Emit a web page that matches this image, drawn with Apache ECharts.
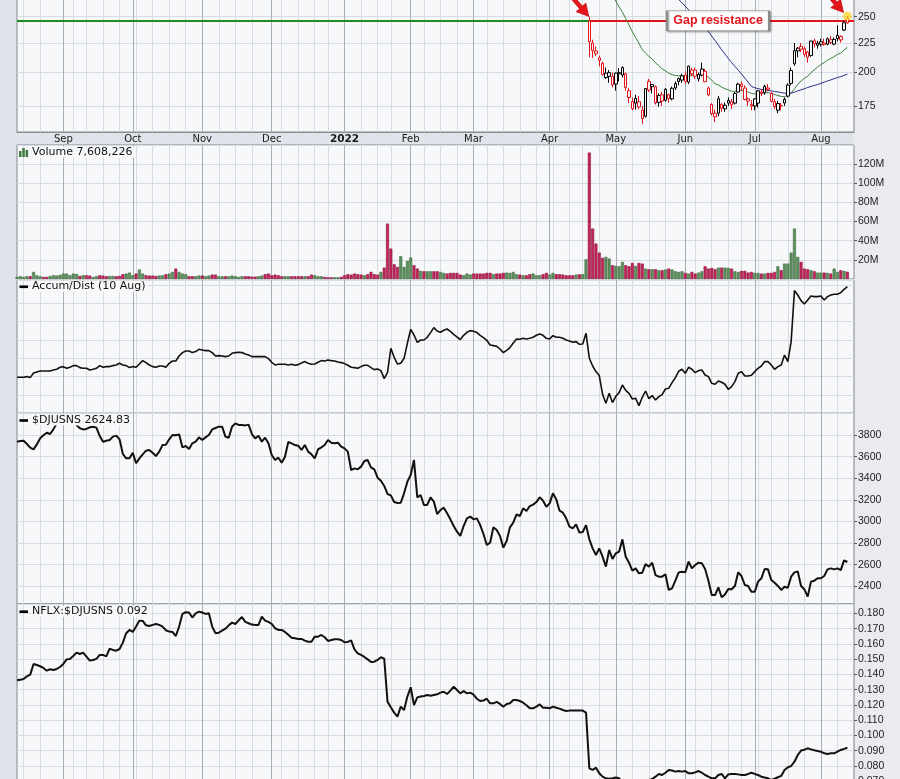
<!DOCTYPE html>
<html><head><meta charset="utf-8">
<script src="https://cdn.jsdelivr.net/npm/echarts@6/dist/echarts.min.js"></script>
<style>html,body{margin:0;padding:0;background:#dfe3ea;}#c{width:900px;height:779px;}</style>
</head><body><div id="c"></div>
<script>
// ---------- categories (trading days) ----------
const firstDay = '2021-08-12';
const lastDay = '2022-08-11';
const holidays = ['2021-09-06','2021-11-25','2021-12-24','2022-01-17','2022-02-21','2022-04-15','2022-05-30','2022-06-20','2022-07-04'];
const padSlots = ['pad1','pad2'];
const monthNames = ['Jan','Feb','Mar','Apr','May','Jun','Jul','Aug','Sep','Oct','Nov','Dec'];

// ---------- series values (one per trading day) ----------
const djusns = [
3739,3745,3748,3718,3684,3668,3714,3770,3798,3822,
3810,3853,3909,3934,3946,3924,3940,3915,3894,3863,
3853,3857,3872,3878,3869,3792,3739,3748,3755,3786,
3795,3761,3625,3585,3585,3637,3539,3585,3622,3656,
3662,3637,3606,3647,3708,3711,3761,3801,3798,3807,
3687,3699,3671,3724,3739,3779,3755,3779,3801,3853,
3866,3878,3878,3786,3776,3878,3909,3894,3894,3890,
3897,3810,3770,3795,3739,3776,3724,3616,3569,3591,
3545,3600,3736,3724,3708,3702,3662,3708,3647,3622,
3585,3668,3687,3708,3755,3730,3724,3730,3693,3677,
3647,3477,3492,3483,3508,3560,3569,3501,3483,3406,
3378,3329,3255,3242,3181,3171,3174,3261,3369,3430,
3569,3224,3245,3153,3153,3224,3184,3069,3106,3128,
3076,3020,2958,2906,2866,2958,3029,3045,3020,3029,
2967,2884,2782,2804,2946,2921,2866,2758,2819,2946,
2989,3066,3051,3122,3097,3143,3156,3180,3224,3193,
3137,3168,3261,3205,3100,3082,3029,2952,2937,2974,
2897,2903,2967,2835,2751,2690,2751,2674,2582,2736,
2653,2705,2721,2835,2674,2619,2545,2566,2520,2526,
2606,2582,2619,2504,2489,2489,2511,2366,2381,2452,
2529,2535,2529,2628,2566,2597,2619,2613,2560,2452,
2319,2319,2390,2298,2325,2375,2372,2403,2529,2495,
2412,2403,2350,2350,2443,2474,2560,2557,2458,2433,
2403,2366,2396,2387,2489,2529,2538,2403,2372,2304,
2443,2452,2474,2474,2495,2557,2566,2557,2566,2550,
2640,2625];

const ratio = [
.1362,.1366,.1370,.1388,.1399,.1469,.1462,.1454,.1443,.1425,
.1434,.1429,.1436,.1449,.1469,.1499,.1502,.1521,.1543,.1534,
.1543,.1517,.1491,.1495,.1502,.1528,.1528,.1519,.1569,.1561,
.1556,.1567,.1609,.1670,.1692,.1679,.1714,.1753,.1751,.1722,
.1718,.1725,.1731,.1725,.1714,.1690,.1681,.1679,.1652,.1714,
.1797,.1808,.1806,.1773,.1801,.1812,.1806,.1797,.1801,.1714,
.1670,.1674,.1687,.1700,.1722,.1740,.1731,.1755,.1777,.1745,
.1736,.1727,.1725,.1725,.1779,.1753,.1745,.1731,.1703,.1692,
.1692,.1679,.1661,.1641,.1637,.1633,.1633,.1622,.1615,.1615,
.1648,.1648,.1659,.1644,.1620,.1626,.1631,.1631,.1626,.1611,
.1613,.1624,.1565,.1539,.1528,.1515,.1499,.1482,.1484,.1495,
.1513,.1504,.1222,.1185,.1150,.1124,.1189,.1167,.1255,.1316,
.1200,.1250,.1255,.1259,.1265,.1261,.1266,.1270,.1281,.1287,
.1272,.1294,.1320,.1298,.1276,.1292,.1276,.1281,.1268,.1241,
.1226,.1229,.1241,.1211,.1211,.1220,.1207,.1189,.1207,.1211,
.1233,.1233,.1226,.1215,.1198,.1178,.1178,.1189,.1204,.1182,
.1182,.1178,.1189,.1182,.1176,.1167,.1161,.1163,.1163,.1163,
.1163,.1163,.1150,.0785,.0774,.0789,.0752,.0730,.0719,.0717,
.0719,.0724,.0719,.0697,.0681,.0675,.0675,.0681,.0686,.0681,
.0697,.0708,.0715,.0730,.0748,.0741,.0756,.0774,.0770,.0763,
.0767,.0763,.0767,.0752,.0752,.0758,.0767,.0756,.0741,.0730,
.0719,.0719,.0741,.0748,.0719,.0745,.0748,.0748,.0745,.0741,
.0741,.0748,.0756,.0748,.0741,.0730,.0724,.0719,.0708,.0717,
.0726,.0735,.0774,.0791,.0800,.0828,.0872,.0901,.0907,.0916,
.0909,.0903,.0898,.0894,.0883,.0879,.0883,.0883,.0894,.0905,
.0912,.0920];

const accumDist = [
36.0,36.0,36.0,36.7,35.7,40.3,41.3,42.3,42.3,42.3,
42.3,43.3,44.0,46.0,46.7,45.0,46.0,47.7,47.7,45.7,
45.0,45.0,43.3,44.0,45.0,47.7,46.0,46.7,46.7,47.7,
48.3,50.0,48.3,47.7,45.7,46.7,46.0,49.3,52.7,50.7,
48.3,46.7,46.0,47.3,47.3,46.0,50.0,52.3,52.3,57.3,
60.7,62.3,62.3,60.7,61.7,64.0,63.3,62.7,62.7,60.7,
57.3,57.7,57.3,56.7,57.3,60.0,60.7,61.0,60.7,59.3,
58.3,56.7,56.7,56.7,56.7,56.7,54.7,51.0,48.3,49.0,
49.0,49.0,48.3,49.0,48.0,48.7,50.3,51.7,50.0,49.0,
49.3,51.0,52.7,52.3,53.3,52.7,52.3,51.3,50.7,49.7,
48.0,46.0,45.7,45.0,46.7,48.0,48.0,45.7,43.7,44.3,
42.7,34.7,41.0,65.0,56.0,49.3,50.0,55.0,70.0,84.0,
78.3,71.0,73.3,73.3,76.0,80.7,85.7,82.3,81.0,83.0,
84.3,82.0,79.0,76.3,73.7,78.0,81.0,82.7,82.0,80.7,
78.0,75.7,73.0,68.3,67.7,67.0,64.3,60.7,63.0,65.7,
70.3,74.3,74.0,75.0,74.3,75.0,76.0,78.0,79.3,78.0,
75.0,74.3,77.7,76.0,76.0,75.0,73.3,72.3,71.0,71.7,
69.0,69.3,80.0,55.0,47.3,41.7,37.7,19.0,10.0,20.0,
10.7,17.0,20.7,28.3,23.0,20.0,14.3,15.0,7.7,16.0,
22.3,14.7,17.7,13.3,16.7,18.7,24.3,25.0,30.7,35.7,
42.0,44.0,40.0,46.0,44.0,40.7,42.7,43.3,38.3,36.7,
30.0,29.0,32.3,31.0,29.0,24.0,26.7,31.7,40.0,41.7,
37.3,37.3,38.0,41.7,45.0,47.3,51.7,51.7,48.3,44.0,
46.7,48.3,58.3,51.7,71.7,122.7,118.3,112.7,109.3,113.3,
117.3,116.7,116.7,117.3,113.3,116.7,118.3,119.0,119.0,120.7,
124.0,126.7];

const volumeM = [
2.2,2.9,2.2,2.9,2.9,7.4,3.9,2.9,2.2,2.2,
3.2,3.9,3.6,4.3,5.7,5.7,3.9,5.7,5.3,3.2,
3.9,3.9,3.6,2.2,2.9,3.9,3.6,2.9,3.2,3.2,
2.9,3.2,5.0,5.7,6.7,3.9,5.7,9.9,5.7,3.9,
3.6,3.6,3.2,3.6,3.9,5.0,5.7,7.4,10.9,7.4,
5.7,5.0,2.9,2.9,2.9,3.6,3.6,2.9,3.6,4.6,
4.6,2.9,2.9,2.9,2.9,3.6,2.9,2.2,2.9,2.9,
2.9,2.5,2.5,2.9,3.6,5.0,5.7,3.9,4.6,3.9,
2.9,2.9,2.9,2.9,2.9,2.9,2.9,2.9,2.9,4.6,
3.9,2.9,2.9,2.2,1.8,1.8,1.8,1.8,2.2,3.9,
5.0,4.6,5.7,5.0,4.6,3.9,5.0,7.4,5.0,4.6,
7.4,11.9,57.9,31.8,15.4,12.6,23.8,12.6,18.9,22.4,
14.4,10.9,8.5,8.1,8.1,8.1,8.1,8.1,7.4,6.4,
5.7,6.4,6.4,6.4,4.6,3.9,5.7,4.6,5.7,5.7,
5.7,5.7,6.4,6.4,5.0,5.7,5.7,6.4,6.7,6.4,
7.4,5.0,4.6,3.9,3.9,5.0,5.7,3.9,3.9,5.0,
6.4,4.6,6.4,5.0,5.0,4.6,3.9,3.9,3.9,4.6,
5.0,5.0,20.6,132.1,52.7,37.0,27.6,22.1,23.1,21.4,
14.4,13.7,13.3,17.9,14.4,13.3,16.8,13.7,16.8,16.1,
10.9,10.2,10.2,10.2,9.2,9.2,9.9,10.9,9.9,8.1,
7.4,8.1,6.4,5.7,7.4,5.7,6.7,8.1,13.3,10.9,
11.6,10.2,11.9,11.9,11.9,11.6,10.9,8.1,7.4,8.5,
8.5,6.7,7.4,6.4,6.4,5.7,5.7,6.4,6.4,7.4,
13.3,9.2,16.1,16.1,27.6,52.7,23.1,17.9,10.9,10.2,
9.2,8.1,6.7,6.7,6.7,6.4,5.7,10.9,7.4,9.2,
8.5,7.6];

// ---------- NFLX candles (visible in the price window from 20 Apr 2022) ----------
const candleStartDate = '2022-04-20';
const candleOpen  = [245.8,225.0,218.0,212.0,207.5,196.0,197.0,197.0,191.0,199.0,198.0,199.0,186.0,178.0,177.0,178.0,172.0,168.0,193.0,189.0,189.0,177.5,183.0,179.0,183.0,180.0,188.0,193.0,194.0,198.0,192.5,202.0,202.0,195.0,198.0,201.0,188.0,176.0,170.0,170.0,176.0,173.0,177.0,178.0,177.0,185.0,191.0,188.0,180.0,176.0,175.0,177.0,185.0,184.5,188.0,184.0,178.0,172.0,175.0,177.0,182.0,191.5,207.0,218.0,222.0,220.0,217.0,214.0,227.0,223.0,224.0,225.0,224.0,228.0,224.0,229.0,231.0,237.0,248.5];
const candleHigh  = [250.0,228.0,222.0,214.0,209.0,204.0,202.0,200.0,200.0,203.5,205.0,200.0,188.0,181.0,183.0,182.0,175.0,188.0,195.0,191.0,190.0,184.0,185.0,188.0,184.0,189.0,193.0,196.0,199.0,201.0,205.5,204.0,204.0,200.0,208.0,203.0,189.0,177.0,172.5,182.0,177.0,177.5,181.0,180.0,185.0,192.0,193.0,190.0,181.0,179.0,180.5,186.5,187.0,190.5,191.0,185.0,180.0,178.5,177.0,181.0,191.5,204.0,225.0,221.5,225.0,222.0,218.0,227.0,229.0,227.0,229.0,229.0,230.0,231.5,230.0,241.5,232.0,246.0,250.5];
const candleLow   = [212.5,212.0,213.5,205.0,197.5,195.0,192.0,188.5,186.0,193.0,196.0,186.0,177.0,172.0,172.5,173.0,162.7,167.0,185.0,184.0,176.0,174.5,175.0,178.0,177.5,179.0,186.5,190.0,192.0,191.0,191.0,197.0,195.0,193.0,197.0,192.5,182.0,168.5,164.0,168.0,171.0,171.0,175.0,173.0,176.0,184.5,186.0,179.0,175.0,172.0,172.0,174.0,182.0,183.0,185.5,177.5,173.0,170.0,172.0,175.0,181.0,190.0,205.5,212.5,217.0,213.0,208.0,213.0,221.0,220.0,222.0,222.5,223.0,224.0,223.0,226.5,225.5,236.0,243.0];
const candleClose = [226.2,218.2,215.5,209.9,198.4,199.5,199.9,190.4,199.5,199.9,204.0,188.3,181.0,173.1,180.4,174.3,166.4,187.6,186.5,190.6,177.2,182.5,178.5,187.0,180.3,187.8,191.4,195.2,197.4,192.9,205.1,199.0,197.1,198.6,202.8,192.8,182.9,169.7,167.5,180.1,173.4,175.5,178.9,175.9,183.9,190.9,189.1,179.6,178.4,174.9,180.0,185.9,184.1,189.3,187.0,178.2,174.5,176.7,175.1,179.7,190.2,201.6,218.3,220.4,219.5,215.0,212.5,226.8,224.3,224.9,226.2,223.6,228.9,225.6,228.3,232.0,227.8,244.0,243.9];

// ---------- annotations / axis ticks ----------
const gapResistance = 246;
const gapLabel = 'Gap resistance';
const gapLabelDate = '2022-06-14';
const arrowTargets = [['2022-04-20', 250], ['2022-08-10', 254]];
const priceTicks = [175, 200, 225, 250];
const djusnsTicks = [2400, 2600, 2800, 3000, 3200, 3400, 3600, 3800];
const volumeLabel = 'Volume 7,608,226';
const adLabel = 'Accum/Dist (10 Aug)';
const djLabel = '$DJUSNS 2624.83';
const ratioLabel = 'NFLX:$DJUSNS 0.092';

// ---------- build ----------
function buildDates() {
  const out = [];
  const d = new Date(firstDay + 'T00:00:00Z');
  const end = new Date(lastDay + 'T00:00:00Z').getTime();
  while (d.getTime() <= end) {
    const wd = d.getUTCDay();
    const s = d.toISOString().slice(0, 10);
    if (wd !== 0 && wd !== 6 && holidays.indexOf(s) < 0) out.push(s);
    d.setUTCDate(d.getUTCDate() + 1);
  }
  return out;
}
const dates = buildDates();
const categories = dates.concat(padSlots);
const N = dates.length;
const cStart = dates.indexOf(candleStartDate);

function weekKey(s) { const d = new Date(s + 'T00:00:00Z'); const wd = (d.getUTCDay() + 6) % 7; d.setUTCDate(d.getUTCDate() - wd); return d.toISOString().slice(0, 10); }
const monthStart = categories.map((c, i) => i > 0 && i < N && c.slice(5, 7) !== categories[i - 1].slice(5, 7));
const weekStart = categories.map((c, i) => i > 0 && i < N && weekKey(c) !== weekKey(categories[i - 1]));
const weekLine = categories.map((c, i) => weekStart[i] && !(monthStart[i] || monthStart[i + 1] || monthStart[i + 2]));

const closeAll = dates.map((d, i) => i < cStart ? ratio[i] * djusns[i] : candleClose[i - cStart]);
const RED = '#e3141c', BLACK = '#000000', PANEL = '#f7f8fa';

const candleData = dates.map((d, i) => {
  if (i < cStart) return '-';
  const k = i - cStart;
  const col = closeAll[i] < closeAll[i - 1] ? RED : BLACK;
  return { value: [candleOpen[k], candleClose[k], candleLow[k], candleHigh[k]],
    itemStyle: { color: PANEL, color0: col, borderColor: col, borderColor0: col } };
});

const ema20 = [];
closeAll.forEach((c, i) => { ema20.push(i === 0 ? c : ema20[i - 1] + (2 / 21) * (c - ema20[i - 1])); });
const sma50 = closeAll.map((c, i) => {
  if (i < 49) return '-';
  let s = 0; for (let j = i - 49; j <= i; j++) s += closeAll[j]; return s / 50;
});
const ema20Data = ema20.map((v, i) => i < 19 ? '-' : v);

const volData = volumeM.map((v, i) => {
  const up = i === 0 || closeAll[i] >= closeAll[i - 1];
  return { value: v, itemStyle: { color: up ? '#5e8f5e' : '#c3245a', borderColor: up ? '#3f6f3f' : '#8f1540', borderWidth: 0.6 } };
});

// ---------- layout ----------
const L = 17, R = 46;
const grids = [
  { top: -5, height: 137 },
  { top: 145, height: 134 },
  { top: 280, height: 133.3 },
  { top: 413.3, height: 190.7 },
  { top: 604, height: 192.5 }
].map(g => Object.assign({ left: L, right: R, show: true, backgroundColor: PANEL, borderColor: '#80848c', borderWidth: 1, containLabel: false, outerBoundsMode: 'none' }, g));

const xAxes = [];
grids.forEach((g, gi) => {
  xAxes.push({ type: 'category', gridIndex: gi, data: categories, boundaryGap: false, position: 'bottom',
    axisLine: { show: false }, axisTick: { show: false }, axisLabel: { show: false },
    splitLine: { show: true, interval: (i) => weekLine[i], lineStyle: { color: '#d8dbe0', width: 1 } } });
  xAxes.push({ type: 'category', gridIndex: gi, data: categories, boundaryGap: false, position: 'bottom',
    axisLine: { show: gi === 0, lineStyle: { color: '#80848c', type: 'dotted' } }, axisTick: { show: false },
    axisLabel: gi === 0 ? { show: true, interval: (i) => monthStart[i], margin: 2,
      fontFamily: 'DejaVu Sans', fontSize: 10, color: '#1a1a1a',
      formatter: (v) => { const m = +v.slice(5, 7); return m === 1 ? '{y|' + v.slice(0, 4) + '}' : monthNames[m - 1]; },
      rich: { y: { fontWeight: 'bold', fontFamily: 'DejaVu Sans', fontSize: 10.5, color: '#1a1a1a' } } } : { show: false },
    splitLine: { show: true, interval: (i) => monthStart[i], lineStyle: { color: '#a9adb5', width: 1 } } });
});

const labelStyle = { fontFamily: 'Liberation Sans', fontSize: 10.5, color: '#222', margin: 4 };
const tickStyle = { show: true, length: 3, lineStyle: { color: '#555' } };
const yAxes = [
  { type: 'log', logBase: 10, gridIndex: 0, position: 'right', min: 157.7, max: 272.6,
    axisLine: { show: false }, axisTick: Object.assign({ customValues: priceTicks }, tickStyle),
    axisLabel: Object.assign({ customValues: priceTicks, formatter: (v) => String(Math.round(v)) }, labelStyle),
    splitLine: { show: true, lineStyle: { color: '#d8dbe0' } }, minorSplitLine: { show: false } },
  { type: 'value', gridIndex: 1, position: 'right', min: 0, max: 140, interval: 20,
    axisLine: { show: false }, axisTick: tickStyle,
    axisLabel: Object.assign({ showMaxLabel: false, showMinLabel: false, formatter: (v) => (v === 0 || v >= 140) ? '' : v + 'M' }, labelStyle),
    splitLine: { show: true, lineStyle: { color: '#d8dbe0' } } },
  { type: 'value', gridIndex: 2, position: 'right', min: 0, max: 133.3, interval: 18.35,
    axisLine: { show: false }, axisTick: { show: false }, axisLabel: { show: false },
    splitLine: { show: true, lineStyle: { color: '#d8dbe0' } } },
  { type: 'value', gridIndex: 3, position: 'right', min: 2236, max: 4002,
    axisLine: { show: false }, axisTick: Object.assign({ customValues: djusnsTicks }, tickStyle),
    axisLabel: Object.assign({ customValues: djusnsTicks, formatter: (v) => String(Math.round(v)) }, labelStyle),
    splitLine: { show: true, lineStyle: { color: '#d8dbe0' } } },
  { type: 'value', gridIndex: 4, position: 'right', min: 0.06, max: 0.1862, interval: 0.01,
    axisLine: { show: false }, axisTick: tickStyle,
    axisLabel: Object.assign({ showMaxLabel: false, formatter: (v) => v.toFixed(3) }, labelStyle),
    splitLine: { show: true, lineStyle: { color: '#d8dbe0' } } }
];

const arrowPath = 'path://M7 0 L13 0 L13 15 L20 15 L10 28 L0 15 L7 15 Z';
const series = [
  { type: 'candlestick', name: 'NFLX', xAxisIndex: 1, yAxisIndex: 0, data: candleData, barWidth: 3, z: 3,
    markLine: { silent: true, symbol: ['none', 'none'], label: { show: false }, z: 2,
      data: [
        [{ coord: [categories[0], gapResistance], lineStyle: { color: '#1f8a1f', width: 2, type: 'solid' } }, { coord: [candleStartDate, gapResistance] }],
        [{ coord: [candleStartDate, gapResistance], lineStyle: { color: RED, width: 2, type: 'solid' } }, { coord: [categories[categories.length - 1], gapResistance] }]
      ] },
    markPoint: { silent: true, z: 10, data: [
      { coord: [gapLabelDate, gapResistance], symbol: 'rect', symbolSize: [102, 20], symbolOffset: [3, 0],
        itemStyle: { color: '#ffffff', borderColor: '#8a8a8a', borderWidth: 1, shadowBlur: 2, shadowColor: 'rgba(0,0,0,0.35)', shadowOffsetX: 1, shadowOffsetY: 1 },
        label: { show: true, position: 'inside', formatter: gapLabel, color: RED, fontWeight: 'bold', fontFamily: 'Liberation Sans', fontSize: 12.5 } },
      { coord: arrowTargets[0], symbol: arrowPath, symbolSize: [13, 26], symbolRotate: 41, symbolOffset: [-9, -10],
        itemStyle: { color: RED, borderColor: '#b00', borderWidth: 0.5 }, label: { show: false } },
      { coord: arrowTargets[1], symbol: arrowPath, symbolSize: [13, 26], symbolRotate: 41, symbolOffset: [-9, -10],
        itemStyle: { color: RED, borderColor: '#b00', borderWidth: 0.5 }, label: { show: false } },
      { coord: [dates[N - 1], candleHigh[candleHigh.length - 1]], symbol: 'circle', symbolSize: 9,
        itemStyle: { color: 'rgba(255,214,40,0.75)' }, label: { show: false } }
    ] } },
  { type: 'line', name: 'EMA20', xAxisIndex: 1, yAxisIndex: 0, data: ema20Data, symbol: 'none', showSymbol: false,
    lineStyle: { color: '#3d7f3d', width: 1 }, z: 2 },
  { type: 'line', name: 'SMA50', xAxisIndex: 1, yAxisIndex: 0, data: sma50, symbol: 'none', showSymbol: false,
    lineStyle: { color: '#2c2c88', width: 1 }, z: 2 },
  { type: 'bar', name: 'Volume', xAxisIndex: 3, yAxisIndex: 1, data: volData, barWidth: 3 },
  { type: 'line', name: 'AccumDist', xAxisIndex: 5, yAxisIndex: 2, data: accumDist, symbol: 'none', showSymbol: false,
    lineStyle: { color: '#111', width: 1.6 } },
  { type: 'line', name: 'DJUSNS', xAxisIndex: 7, yAxisIndex: 3, data: djusns, symbol: 'none', showSymbol: false,
    lineStyle: { color: '#111', width: 2 } },
  { type: 'line', name: 'Ratio', xAxisIndex: 9, yAxisIndex: 4, data: ratio, symbol: 'none', showSymbol: false,
    lineStyle: { color: '#111', width: 2 } }
];

const txt = (text, top) => ({ type: 'text', left: 31, top: top, z: 100,
  style: { text: text, font: '11px "DejaVu Sans"', fill: '#111', backgroundColor: PANEL, padding: [0, 2, 0, 1] } });
const dash = (y) => ({ type: 'rect', z: 100, shape: { x: 19.5, y: y, width: 8.5, height: 2.6 }, style: { fill: '#000' } });
const graphic = [
  { type: 'rect', z: -10, silent: true, shape: { x: 854, y: 0, width: 46, height: 779 }, style: { fill: '#e9ebef' } },
  { type: 'rect', z: 100, shape: { x: 19, y: 151, width: 2.5, height: 6 }, style: { fill: '#3f7a3f' } },
  { type: 'rect', z: 100, shape: { x: 22.3, y: 148, width: 2.5, height: 9 }, style: { fill: '#3f7a3f' } },
  { type: 'rect', z: 100, shape: { x: 25.6, y: 150, width: 2.5, height: 7 }, style: { fill: '#3f7a3f' } },
  txt(volumeLabel, 146.5),
  dash(285.5), txt(adLabel, 280.8),
  dash(419.2), txt(djLabel, 414.6),
  dash(610.4), txt(ratioLabel, 605.8)
];

const chart = echarts.init(document.getElementById('c'), null, { renderer: 'canvas' });
chart.setOption({
  animation: false,
  backgroundColor: 'transparent',
  textStyle: { fontFamily: 'DejaVu Sans' },
  grid: grids, xAxis: xAxes, yAxis: yAxes, series: series, graphic: graphic
});
</script></body></html>
